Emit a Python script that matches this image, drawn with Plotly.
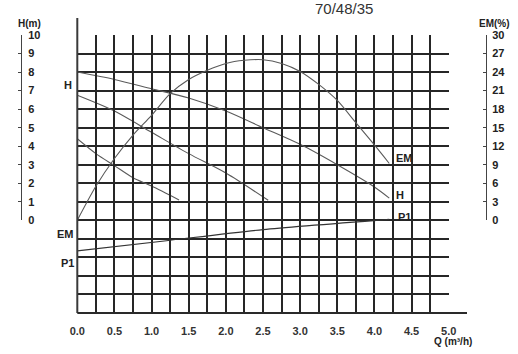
import plotly.graph_objects as go

# ---------------- data ----------------
title_text = "70/48/35"

q_h1 = [0, 0.5, 1.0, 1.5, 2.0, 2.5, 3.0, 3.5, 4.0, 4.2]
h1 = [8.0, 7.6, 7.1, 6.6, 5.9, 5.0, 4.1, 3.0, 1.8, 1.2]

q_h2 = [0, 0.5, 1.0, 1.5, 2.0, 2.57]
h2 = [6.75, 5.9, 4.75, 3.6, 2.55, 1.08]

q_h3 = [0, 0.25, 0.5, 0.75, 1.0, 1.37]
h3 = [4.4, 3.6, 2.95, 2.3, 1.85, 1.1]

q_em = [0, 0.25, 0.5, 0.75, 1.0, 1.25, 1.5, 1.75, 2.0, 2.25, 2.5, 2.75,
        3.0, 3.25, 3.5, 3.75, 4.0, 4.2]
em = [0, 5.5, 10.0, 13.8, 17.0, 20.5, 22.8, 24.3, 25.4, 25.9, 26.0, 25.4,
      24.1, 22.0, 19.4, 15.8, 12.2, 9.2]

q_p1 = [0, 1.2, 2.5, 4.2]
p1 = [-1.65, -1.1, -0.5, 0.05]

x_tickvals = [i * 0.25 for i in range(21)]
x_ticktext = ["0.0", "", "0.5", "", "1.0", "", "1.5", "", "2.0", "", "2.5", "",
              "3.0", "", "3.5", "", "4.0", "", "4.5", "", "5.0"]
h_ticks = list(range(0, 11))
em_ticks = list(range(0, 31, 3))

# ---------------- layout geometry ----------------
W, H = 518, 354
ML, MR, MT, MB = 21, 32, 35, 41
pw = W - ML - MR
ph = H - MT - MB


def px_x(px):
    return (px - ML) / pw


def px_y(py):
    return (H - MB - py) / ph


xdom = [px_x(77.3), px_x(448.7)]
hdom = [px_y(220.3), 1.0]

FONT = "Liberation Sans, Arial, sans-serif"
GRID = "#262626"
CURVE = "#5a5a5a"
TXT = "#222222"

fig = go.Figure()

for qx, hy in [(q_h1, h1), (q_h2, h2), (q_h3, h3)]:
    fig.add_trace(go.Scatter(x=qx, y=hy, mode="lines",
                             line=dict(color=CURVE, width=1.1, shape="spline", smoothing=0.8),
                             xaxis="x", yaxis="y", showlegend=False, hoverinfo="skip"))

fig.add_trace(go.Scatter(x=q_p1, y=p1, mode="lines",
                         line=dict(color="#333333", width=1.1, shape="spline", smoothing=0.6),
                         xaxis="x", yaxis="y", showlegend=False, hoverinfo="skip"))

fig.add_trace(go.Scatter(x=q_em, y=em, mode="lines",
                         line=dict(color=CURVE, width=1.1, shape="spline", smoothing=0.8),
                         xaxis="x", yaxis="y3", showlegend=False, hoverinfo="skip",
                         cliponaxis=False))

# invisible trace so that the H axis renders
fig.add_trace(go.Scatter(x=[0], y=[0], mode="markers", marker=dict(opacity=0),
                         xaxis="x", yaxis="y2", showlegend=False, hoverinfo="skip"))

bold = dict(family=FONT, size=11, color=TXT)

fig.update_layout(
    width=W, height=H,
    margin=dict(l=ML, r=MR, t=MT, b=MB, pad=0),
    paper_bgcolor="white", plot_bgcolor="rgba(0,0,0,0)",
    xaxis=dict(domain=xdom, range=[0, 5], tickvals=x_tickvals, ticktext=x_ticktext,
               showgrid=True, gridcolor=GRID, gridwidth=1.5, zeroline=False,
               showline=False, ticks="", ticklabelstandoff=10,
               tickfont=dict(family=FONT, size=11, color="#333333", weight="bold"),
               anchor="y"),
    yaxis=dict(domain=[0, 1], range=[-5, 10], dtick=1, tick0=-5,
               showgrid=True, gridcolor=GRID, gridwidth=1.8, zeroline=False,
               showticklabels=False, ticks="", showline=False, anchor="x"),
    yaxis2=dict(domain=hdom, range=[0, 10], tickvals=h_ticks, anchor="free", position=0,
                side="right", showgrid=False, zeroline=False, showline=True,
                linecolor="#444444", linewidth=1, ticks="inside", ticklen=3,
                tickcolor="#444444", ticklabelstandoff=4,
                tickfont=dict(family=FONT, size=11, color=TXT, weight="bold")),
    yaxis3=dict(domain=hdom, range=[0, 30], tickvals=em_ticks, anchor="free", position=1,
                side="right", showgrid=False, zeroline=False, showline=True,
                linecolor="#444444", linewidth=1, ticks="inside", ticklen=3,
                tickcolor="#444444", ticklabelstandoff=3,
                tickfont=dict(family=FONT, size=11, color=TXT, weight="bold")),
)

# axis lines (extended like the reference)
fig.add_shape(type="line", xref="paper", yref="paper",
              x0=px_x(77.3), x1=px_x(77.3), y0=0, y1=px_y(18),
              line=dict(color="#3a3a3a", width=2))
fig.add_shape(type="line", xref="paper", yref="paper",
              x0=px_x(77.3), x1=px_x(467), y0=0, y1=0,
              line=dict(color="#2a2a2a", width=2))

anns = [
    dict(text=title_text, xref="paper", yref="paper", x=px_x(344), y=px_y(9),
         xanchor="center", yanchor="middle", showarrow=False,
         font=dict(family=FONT, size=15, color="#333333")),
    dict(text="<b>H(m)</b>", xref="paper", yref="paper", x=px_x(29), y=px_y(23),
         xanchor="center", yanchor="middle", showarrow=False,
         font=dict(family=FONT, size=10, color=TXT)),
    dict(text="<b>EM(%)</b>", xref="paper", yref="paper", x=px_x(495), y=px_y(23),
         xanchor="center", yanchor="middle", showarrow=False,
         font=dict(family=FONT, size=10, color=TXT)),
    dict(text="<b>Q (m³/h)</b>", xref="paper", yref="paper", x=px_x(453), y=px_y(341),
         xanchor="center", yanchor="middle", showarrow=False,
         font=dict(family=FONT, size=10, color=TXT)),
    # curve labels
    dict(text="<b>H</b>", xref="x", yref="y", x=0, y=7.3, xshift=-3,
         xanchor="right", yanchor="middle", showarrow=False, font=bold),
    dict(text="<b>EM</b>", xref="x", yref="y", x=0, y=-0.76, xshift=-1,
         xanchor="right", yanchor="middle", showarrow=False, font=bold),
    dict(text="<b>P1</b>", xref="x", yref="y", x=0, y=-2.32, xshift=-1,
         xanchor="right", yanchor="middle", showarrow=False, font=bold),
    dict(text="<b>EM</b>", xref="x", yref="y", x=4.27, y=3.35,
         xanchor="left", yanchor="middle", showarrow=False, font=bold),
    dict(text="<b>H</b>", xref="x", yref="y", x=4.27, y=1.35,
         xanchor="left", yanchor="middle", showarrow=False, font=bold),
    dict(text="<b>P1</b>", xref="x", yref="y", x=4.29, y=0.2,
         xanchor="left", yanchor="middle", showarrow=False, font=bold),
]
fig.update_layout(annotations=anns)

fig.write_html("out.html")
